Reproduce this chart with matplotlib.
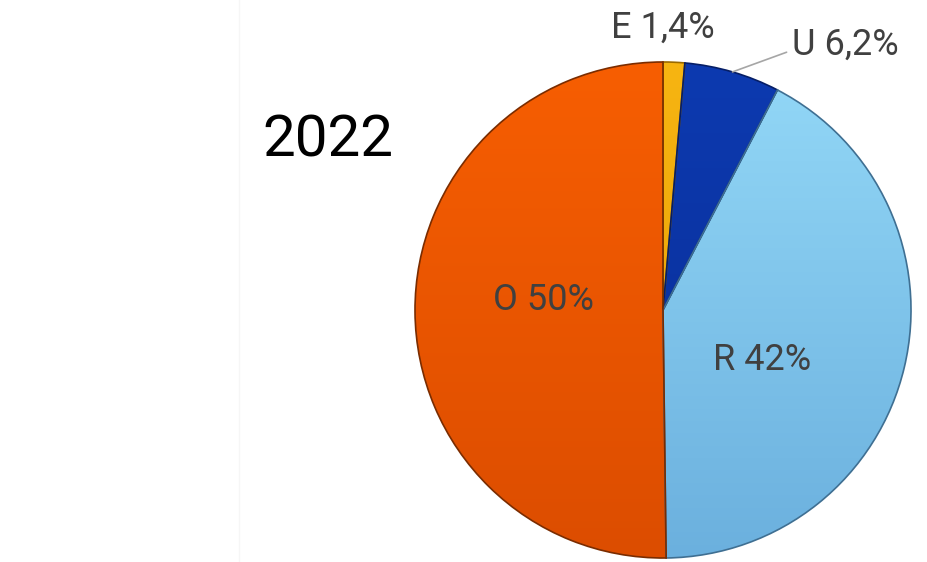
import matplotlib.pyplot as plt
import numpy as np
from matplotlib.colors import LinearSegmentedColormap

labels = ["E", "U", "R", "O"]
values = [1.4, 6.2, 42, 50]
value_text = ["1,4%", "6,2%", "42%", "50%"]
top_colors = ["#F7B512", "#0D3AB0", "#93D8F7", "#F75E02"]
bottom_colors = ["#E39A00", "#082C94", "#6BB0DE", "#DC4D00"]
edge_colors = ["#9A6A00", "#061E66", "#3F6F92", "#7A2C00"]
year = "2022"

fonts = ["Roboto", "DejaVu Sans"]

fig = plt.figure(figsize=(9.28, 5.62), dpi=100)
fig.patch.set_facecolor("white")

# faint panel divider on the left
fig.add_artist(plt.Line2D([239 / 928, 239 / 928], [0, 1], color="#F6F6F6", lw=1.0))

ax = fig.add_axes([0.4472, 0.0071, 0.5345, 0.8826])
wedges, _ = ax.pie(values, colors=top_colors, startangle=90, counterclock=False,
                   radius=1.0, wedgeprops=dict(linewidth=1.2))
grad = np.linspace(0, 1, 256).reshape(-1, 1)
for w, c1, c2, ec in zip(wedges, top_colors, bottom_colors, edge_colors):
    cmap = LinearSegmentedColormap.from_list("g", [c1, c2])
    im = ax.imshow(grad, cmap=cmap, extent=(-1, 1, -1, 1), origin="upper",
                   aspect="auto", zorder=w.get_zorder())
    im.set_clip_path(w)
    w.set_facecolor("none")
    w.set_edgecolor(ec)
    w.set_zorder(w.get_zorder() + 0.5)
ax.set_xlim(-1, 1)
ax.set_ylim(-1, 1)
ax.set_aspect("equal")
ax.axis("off")

# labels inside the two big slices
ax.text(-0.48, 0.04, labels[3] + " " + value_text[3], fontsize=26, color="#404040",
        family=fonts, ha="center", va="center", zorder=5)
ax.text(0.40, -0.20, labels[2] + " " + value_text[2], fontsize=26, color="#404040",
        family=fonts, ha="center", va="center", zorder=5)

# small slices labelled outside
ax.text(0.0, 1.14, labels[0] + " " + value_text[0], fontsize=26, color="#404040",
        family=fonts, ha="center", va="center", clip_on=False)

# leader line for U
theta1, theta2 = wedges[1].theta1, wedges[1].theta2
mid = np.deg2rad((theta1 + theta2) / 2)
ax.annotate(labels[1] + " " + value_text[1], xy=(np.cos(mid), np.sin(mid)),
            xytext=(0.52, 1.07), fontsize=26, color="#404040", family=fonts,
            ha="left", va="center", annotation_clip=False,
            arrowprops=dict(arrowstyle="-", color="#A6A6A6", lw=1.2,
                            shrinkA=2, shrinkB=0,
                            connectionstyle="angle,angleA=0,angleB=20,rad=0"))

fig.text(328 / 928, 1 - 141 / 562, year, fontsize=42, color="black",
         family=fonts, ha="center", va="center")

fig.savefig("out.png", dpi=100)
